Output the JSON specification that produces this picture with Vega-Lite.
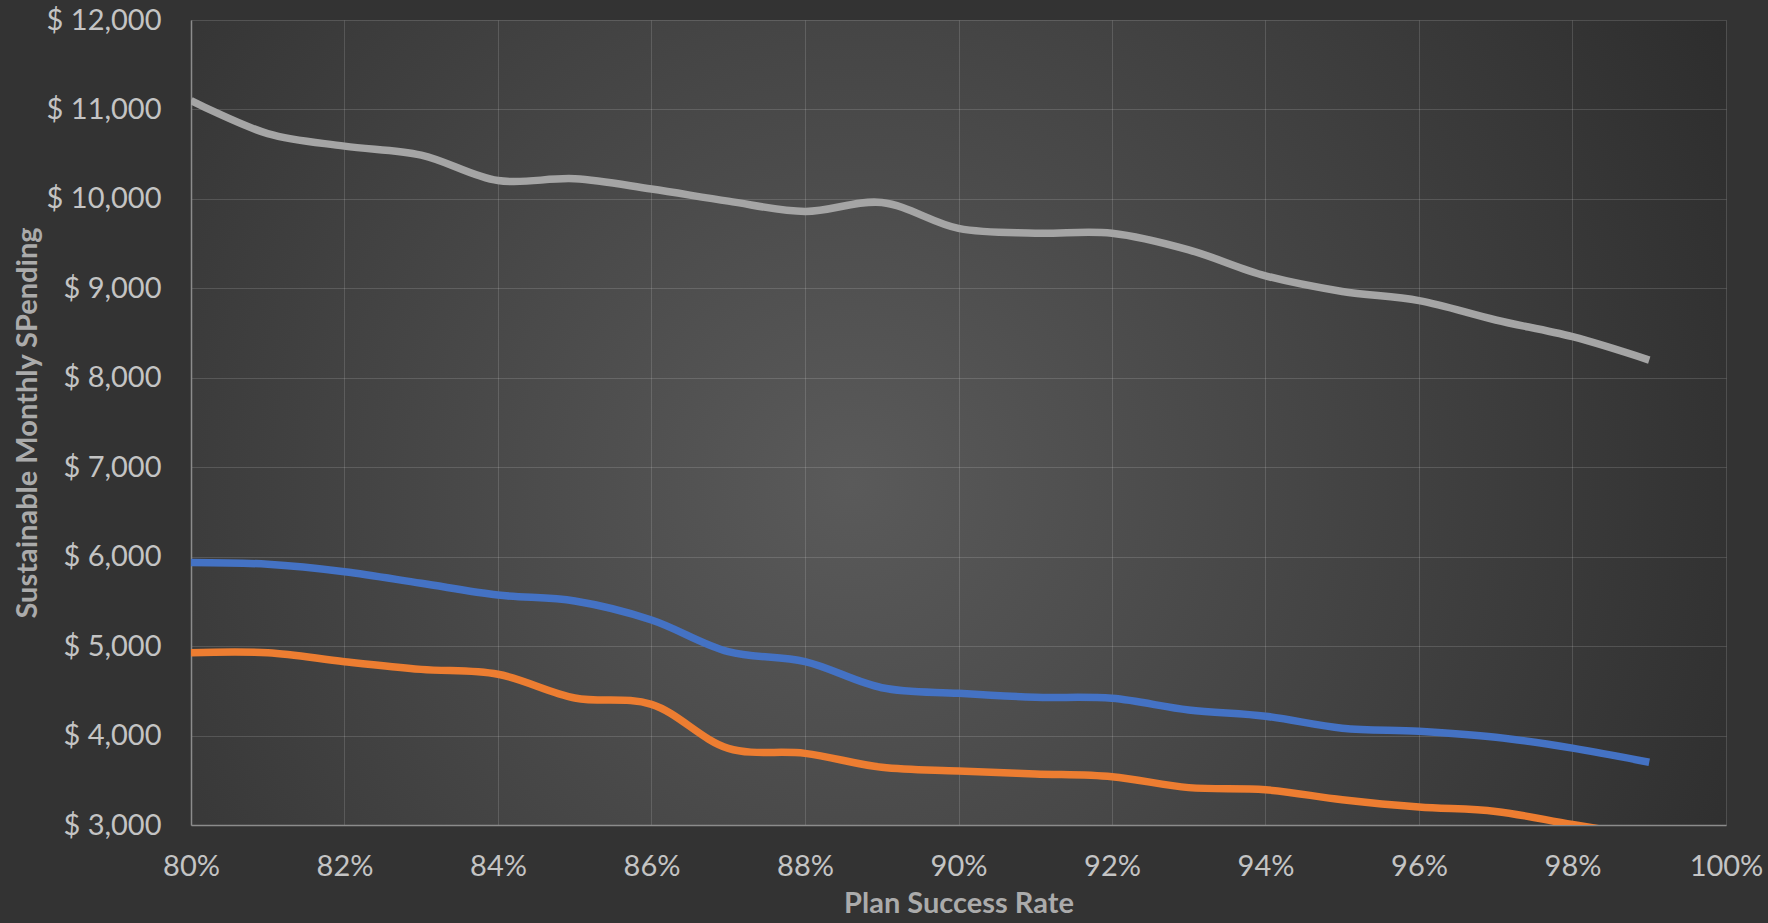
{
  "$schema": "https://vega.github.io/schema/vega-lite/v6.json",
  "width": 1535,
  "height": 805,
  "autosize": {"type": "none"},
  "padding": {"left": 191, "top": 20, "right": 42, "bottom": 98},
  "background": "#333333",
  "config": {
    "font": "Lato",
    "view": {
      "stroke": null,
      "fill": {
        "gradient": "radial",
        "x1": 0.43, "y1": 0.54, "r1": 0,
        "x2": 0.43, "y2": 0.54, "r2": 0.72,
        "stops": [
          {"offset": 0, "color": "#5a5a5a"},
          {"offset": 1, "color": "#282828"}
        ]
      }
    },
    "axis": {
      "grid": true,
      "gridColor": "#ffffff",
      "gridOpacity": 0.14,
      "gridWidth": 1,
      "ticks": false,
      "tickSize": 0,
      "domainColor": "#8c8c8c",
      "domainWidth": 1.5,
      "labelFont": "Lato",
      "labelFontSize": 29,
      "labelColor": "#c4c4c4",
      "labelOverlap": false,
      "labelFlush": false,
      "titleFont": "Lato",
      "titleFontSize": 29,
      "titleFontWeight": "bold",
      "titleColor": "#ababab"
    }
  },
  "data": {
    "values": [
      {"rate": 0.80, "series": "High", "spending": 11100},
      {"rate": 0.81, "series": "High", "spending": 10730},
      {"rate": 0.82, "series": "High", "spending": 10590},
      {"rate": 0.83, "series": "High", "spending": 10490},
      {"rate": 0.84, "series": "High", "spending": 10205},
      {"rate": 0.85, "series": "High", "spending": 10225},
      {"rate": 0.86, "series": "High", "spending": 10110},
      {"rate": 0.87, "series": "High", "spending": 9975},
      {"rate": 0.88, "series": "High", "spending": 9860},
      {"rate": 0.89, "series": "High", "spending": 9960},
      {"rate": 0.90, "series": "High", "spending": 9670},
      {"rate": 0.91, "series": "High", "spending": 9617},
      {"rate": 0.92, "series": "High", "spending": 9616},
      {"rate": 0.93, "series": "High", "spending": 9430},
      {"rate": 0.94, "series": "High", "spending": 9140},
      {"rate": 0.95, "series": "High", "spending": 8965},
      {"rate": 0.96, "series": "High", "spending": 8862},
      {"rate": 0.97, "series": "High", "spending": 8646},
      {"rate": 0.98, "series": "High", "spending": 8459},
      {"rate": 0.99, "series": "High", "spending": 8198},
      {"rate": 0.80, "series": "Mid", "spending": 5935},
      {"rate": 0.81, "series": "Mid", "spending": 5915},
      {"rate": 0.82, "series": "Mid", "spending": 5832},
      {"rate": 0.83, "series": "Mid", "spending": 5702},
      {"rate": 0.84, "series": "Mid", "spending": 5571},
      {"rate": 0.85, "series": "Mid", "spending": 5504},
      {"rate": 0.86, "series": "Mid", "spending": 5292},
      {"rate": 0.87, "series": "Mid", "spending": 4938},
      {"rate": 0.88, "series": "Mid", "spending": 4826},
      {"rate": 0.89, "series": "Mid", "spending": 4535},
      {"rate": 0.90, "series": "Mid", "spending": 4472},
      {"rate": 0.91, "series": "Mid", "spending": 4428},
      {"rate": 0.92, "series": "Mid", "spending": 4416},
      {"rate": 0.93, "series": "Mid", "spending": 4286},
      {"rate": 0.94, "series": "Mid", "spending": 4216},
      {"rate": 0.95, "series": "Mid", "spending": 4082},
      {"rate": 0.96, "series": "Mid", "spending": 4048},
      {"rate": 0.97, "series": "Mid", "spending": 3981},
      {"rate": 0.98, "series": "Mid", "spending": 3859},
      {"rate": 0.99, "series": "Mid", "spending": 3701},
      {"rate": 0.80, "series": "Low", "spending": 4926},
      {"rate": 0.81, "series": "Low", "spending": 4925},
      {"rate": 0.82, "series": "Low", "spending": 4826},
      {"rate": 0.83, "series": "Low", "spending": 4740},
      {"rate": 0.84, "series": "Low", "spending": 4685},
      {"rate": 0.85, "series": "Low", "spending": 4420},
      {"rate": 0.86, "series": "Low", "spending": 4349},
      {"rate": 0.87, "series": "Low", "spending": 3857},
      {"rate": 0.88, "series": "Low", "spending": 3801},
      {"rate": 0.89, "series": "Low", "spending": 3645},
      {"rate": 0.90, "series": "Low", "spending": 3604},
      {"rate": 0.91, "series": "Low", "spending": 3571},
      {"rate": 0.92, "series": "Low", "spending": 3540},
      {"rate": 0.93, "series": "Low", "spending": 3418},
      {"rate": 0.94, "series": "Low", "spending": 3394},
      {"rate": 0.95, "series": "Low", "spending": 3283},
      {"rate": 0.96, "series": "Low", "spending": 3201},
      {"rate": 0.97, "series": "Low", "spending": 3152},
      {"rate": 0.98, "series": "Low", "spending": 3005},
      {"rate": 0.99, "series": "Low", "spending": 2870}
    ]
  },
  "mark": {
    "type": "line",
    "interpolate": "catmull-rom",
    "strokeWidth": 7.5,
    "clip": true
  },
  "encoding": {
    "x": {
      "field": "rate",
      "type": "quantitative",
      "scale": {"domain": [0.8, 1.0], "nice": false, "zero": false},
      "axis": {
        "title": "Plan Success Rate",
        "values": [0.8, 0.82, 0.84, 0.86, 0.88, 0.9, 0.92, 0.94, 0.96, 0.98, 1.0],
        "format": ".0%",
        "labelPadding": 27,
        "titlePadding": 8
      }
    },
    "y": {
      "field": "spending",
      "type": "quantitative",
      "scale": {"domain": [3000, 12000], "nice": false, "zero": false},
      "axis": {
        "title": "Sustainable Monthly SPending",
        "values": [3000, 4000, 5000, 6000, 7000, 8000, 9000, 10000, 11000, 12000],
        "labelExpr": "'$ ' + format(datum.value, ',')",
        "labelPadding": 30,
        "titlePadding": 4
      }
    },
    "color": {
      "field": "series",
      "type": "nominal",
      "scale": {
        "domain": ["High", "Mid", "Low"],
        "range": ["#a5a5a5", "#4472c4", "#ed7d31"]
      },
      "legend": null
    }
  }
}
